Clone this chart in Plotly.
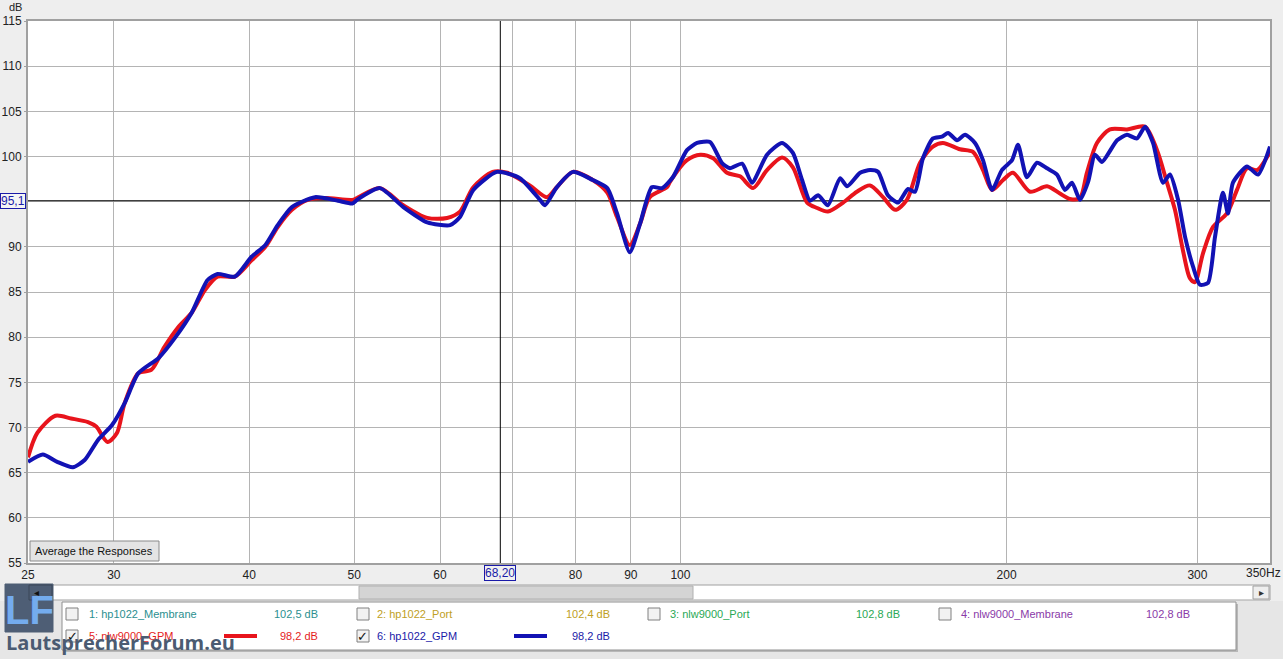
import numpy as np
from plotly import graph_objects as go

# REW-style frequency response: two GPM measurements
red_freq = [25.0, 25.5, 26.5, 27.4, 28.4, 28.9, 29.6, 30.2, 30.7, 31.6, 32.5, 33.4, 34.4, 35.4,
            36.4, 37.4, 38.8, 40.2, 41.4, 42.5, 43.8, 45.3, 47.0, 49.8, 50.3, 52.8, 55.5, 58.4,
            60.9, 62.6, 64.4, 67.1, 69.2, 72.6, 75.3, 76.9, 79.6, 83.0, 85.6, 87.4, 89.8, 91.8,
            93.7, 97.2, 97.8, 101.4, 104.3, 107.2, 110.4, 113.5, 116.7, 120.2, 124.1, 127.0,
            130.9, 133.7, 136.8, 141.3, 145.5, 149.6, 153.8, 157.8, 161.8, 166.4, 171.0, 174.7,
            181.1, 186.2, 190.2, 193.9, 198.5, 202.7, 210.2, 217.9, 224.0, 228.8, 233.7, 237.2,
            242.3, 249.1, 258.3, 268.4, 275.3, 281.2, 286.0, 290.9, 295.3, 298.4, 303.6, 310.1,
            319.4, 326.3, 333.3, 340.5, 350.0]
red_db = [66.7, 69.4, 71.3, 71.0, 70.6, 70.1, 68.4, 69.4, 72.7, 76.0, 76.4, 78.9, 81.1, 82.7,
          85.2, 86.7, 86.7, 88.5, 90.0, 92.2, 94.1, 95.2, 95.4, 95.2, 95.4, 96.5, 94.6, 93.2,
          93.2, 93.9, 96.6, 98.3, 98.2, 96.8, 95.5, 96.6, 98.3, 97.4, 96.0, 93.3, 90.2, 92.6,
          95.5, 96.6, 97.2, 99.6, 100.2, 99.8, 98.2, 97.8, 96.5, 98.5, 99.9, 98.8,
          94.9, 94.3, 93.9, 94.9, 96.1, 96.8, 95.5, 94.1, 95.2, 99.3, 101.1, 101.5,
          100.8, 100.5, 98.5, 96.3, 97.4, 98.2, 96.1, 96.7, 95.9, 95.3, 95.4, 98.2,
          101.5, 103.0, 103.0, 103.3, 100.7, 97.1, 94.1, 89.6, 86.5, 86.1, 89.3, 92.2,
          93.7, 96.3, 98.7, 98.5, 100.5]

blue_freq = [25.0, 25.8, 26.6, 27.5, 28.2, 29.0, 29.9, 30.7, 31.6, 33.0, 34.2, 35.4, 36.6, 37.4,
             38.8, 40.2, 41.4, 42.5, 43.8, 46.0, 48.3, 49.8, 50.3, 52.8, 55.5, 58.4, 61.3, 62.6,
             64.4, 67.7, 71.1, 74.2, 75.0, 76.9, 79.6, 83.0, 85.6, 87.4, 89.8, 91.8, 94.1, 96.2,
             98.4, 101.4, 103.6, 106.5, 109.2, 111.1, 114.0, 116.4, 120.2, 124.1, 127.0, 129.5,
             131.7, 134.0, 136.8, 140.4, 142.5, 146.5, 149.6, 152.2, 155.4, 158.8, 162.2, 164.6,
             167.4, 171.0, 174.3, 176.6, 180.0, 183.1, 187.0, 190.2, 193.9, 198.0, 202.3, 204.9,
             208.8, 213.3, 217.9, 222.6, 226.4, 229.8, 233.7, 237.8, 241.3, 244.9, 252.9, 258.3,
             263.8, 268.4, 273.0, 278.8, 283.0, 287.9, 292.2, 297.2, 301.6, 306.8, 311.4, 316.7,
             320.1, 323.5, 333.3, 341.2, 350.0]
blue_db = [66.2, 67.0, 66.2, 65.6, 66.4, 68.6, 70.3, 72.7, 76.0, 77.7, 80.0, 82.7, 86.3, 87.0,
           86.7, 88.9, 90.2, 92.4, 94.4, 95.5, 95.1, 94.8, 95.2, 96.5, 94.4, 92.7, 92.4, 93.3,
           96.3, 98.3, 97.6, 95.2, 94.6, 96.6, 98.3, 97.4, 96.5, 93.7, 89.4, 92.6, 96.6, 96.5,
           97.7, 100.7, 101.5, 101.6, 99.3, 98.7, 99.2, 97.1, 100.2, 101.5, 100.4, 97.4,
           95.1, 95.7, 94.6, 97.6, 96.7, 98.2, 98.5, 98.3, 95.7, 94.9, 96.4, 96.1,
           99.8, 102.0, 102.2, 102.6, 101.8, 102.4, 101.5, 99.6, 96.3, 98.5, 99.6, 101.3,
           97.7, 99.3, 98.7, 98.0, 96.3, 97.1, 95.2, 97.2, 100.2, 99.4, 101.8, 102.4,
           102.0, 103.3, 101.5, 97.1, 98.0, 95.2, 91.1, 87.8, 85.8, 86.0, 91.1, 96.0,
           93.7, 97.1, 98.9, 98.0, 101.1]

cursor_freq = 68.2
cursor_db = 95.1

x_ticks = [25, 30, 40, 50, 60, 70, 80, 90, 100, 200, 300, 350]
x_tick_labels = ["25", "30", "40", "50", "60", "", "80", "90", "100", "200", "300", ""]
y_ticks = [55, 60, 65, 70, 75, 80, 85, 90, 95, 100, 105, 110, 115]
# the 95 label sits under the cursor readout box
y_tick_labels = ["55", "60", "65", "70", "75", "80", "85", "90", "", "100", "105", "110", "115"]

legend_names = ["1: hp1022_Membrane", "2: hp1022_Port", "3: nlw9000_Port", "4: nlw9000_Membrane",
                "5: nlw9000_GPM", "6: hp1022_GPM"]
legend_levels = ["102,5 dB", "102,4 dB", "102,8 dB", "102,8 dB", "98,2 dB", "98,2 dB"]
legend_colors = ["#2b8f8f", "#c0a024", "#2aa855", "#8a3aa8", "#e41c1c", "#1a1aa8"]
legend_checked = [False, False, False, False, True, True]

RED = "#e8141c"
BLUE = "#1212b4"

W, H = 1283, 659
L, R, T, B = 28, 13, 21, 96


def px(x):
    return (x - L) / (W - L - R)


def py(y):
    return (H - B - y) / (H - T - B)


def label(x, y, text, size=11, color="#222", xanchor="center", **kw):
    # pixel-positioned text, anchors given explicitly
    return dict(xref="paper", yref="paper", x=px(x), y=py(y), text=text, showarrow=False,
                xanchor=xanchor, yanchor="middle", font={"size": size, "color": color, **kw})


def box(x0, y0, x1, y1, fill, line="#808080", width=1):
    return dict(type="rect", xref="paper", yref="paper", x0=px(x0), x1=px(x1), y0=py(y1), y1=py(y0),
                fillcolor=fill, line={"color": line, "width": width}, layer="above")


fig = go.Figure()

# cursor lines
fig.add_trace(go.Scatter(x=[cursor_freq, cursor_freq], y=[55, 115], mode="lines",
                         line={"color": "black", "width": 1}, hoverinfo="skip"))
fig.add_trace(go.Scatter(x=[25, 350], y=[cursor_db, cursor_db], mode="lines",
                         line={"color": "black", "width": 1}, hoverinfo="skip"))

fig.add_trace(go.Scatter(x=red_freq, y=red_db, mode="lines", name="5: nlw9000_GPM",
                         line={"color": RED, "width": 4, "shape": "spline", "smoothing": 0.8}))
fig.add_trace(go.Scatter(x=blue_freq, y=blue_db, mode="lines", name="6: hp1022_GPM",
                         line={"color": BLUE, "width": 4, "shape": "spline", "smoothing": 0.6}))

shapes = []
annotations = []

# Average button
shapes.append(box(30, 541, 159, 561, "#e4e4e4", "#8a8a8a"))
annotations.append(label(94, 551, "Average the Responses", 11, "#111"))

# bottom panel background
shapes.append(dict(type="rect", xref="paper", yref="paper", x0=px(0), x1=px(W), y0=py(H), y1=py(601),
                   fillcolor="#e6e6e6", line={"width": 0}, layer="below"))

# scrollbar
shapes.append(box(27, 585, 1270, 600, "white", "#a0a0a0"))
shapes.append(box(359, 586, 693, 599, "#d4d4d4", "#b0b0b0"))
shapes.append(box(1253, 586, 1269, 599, "#eeeeee", "#a0a0a0"))
annotations.append(label(1261, 592, "▸", 10, "#333"))

# legend panel
shapes.append(dict(type="rect", xref="paper", yref="paper", x0=px(64), x1=px(1238), y0=py(652), y1=py(604),
                   fillcolor="#b8b8b8", line={"width": 0}))
shapes.append(box(62, 602, 1236, 650, "white", "#909090"))

col_box = [66, 357, 648, 939]
col_text = [87, 375, 668, 959]
col_level = [320, 612, 902, 1192]
row_y = [614, 636]
for i, name in enumerate(legend_names):
    if i < 4:
        c, r = i, 0
    else:
        c, r = i - 4, 1
    y = row_y[r]
    shapes.append(box(col_box[c], y - 6, col_box[c] + 12, y + 6, "#f2f2f2", "#808080"))
    if legend_checked[i]:
        annotations.append(label(col_box[c] + 6, y, "✓", 13, "#111", family="DejaVu Sans"))
    annotations.append(label(col_text[c], y, name, 11, legend_colors[i], xanchor="left"))
    annotations.append(label(col_level[c], y, legend_levels[i], 11, legend_colors[i], xanchor="right"))

# line swatches
shapes.append(dict(type="line", xref="paper", yref="paper", x0=px(224), x1=px(257), y0=py(636), y1=py(636),
                   line={"color": RED, "width": 4}))
shapes.append(dict(type="line", xref="paper", yref="paper", x0=px(514), x1=px(547), y0=py(636), y1=py(636),
                   line={"color": BLUE, "width": 4}))

# logo
shapes.append(box(5, 584, 53, 632, "#4e5e75", "#4e5e75"))
shapes.append(box(29, 585, 52, 600, "rgba(0,0,0,0)", "#3a4658"))
annotations.append(label(29, 610, "<b>LF</b>", 40, "#74acee", family="Liberation Sans"))
annotations.append(label(36, 592, "◂", 10, "#111"))
annotations.append(label(4, 642, "LautsprecherForum.eu", 20, "#4b5b72", xanchor="left",
                         family="Open Sans", weight=700))

# axis extras
annotations.append(label(15, 7, "dB", 11, "#222"))
annotations.append(label(1283, 573, "350Hz", 12, "#222", xanchor="right"))

# cursor readouts
annotations.append(dict(xref="paper", yref="y", x=px(26), y=cursor_db, text="95,1", showarrow=False,
                        xanchor="right", yanchor="middle",
                        font={"size": 12, "color": "#1a1aa8"}, bgcolor="#f4f4f4",
                        bordercolor="#1a1aa8", borderwidth=1, borderpad=0))
annotations.append(dict(xref="x", yref="paper", x=np.log10(cursor_freq), y=py(573), text="68,20",
                        showarrow=False, xanchor="center", yanchor="middle",
                        font={"size": 12, "color": "#1a1aa8"}, bgcolor="#f0f0f0",
                        bordercolor="#1a1aa8", borderwidth=1, borderpad=0))

fig.update_layout(
    width=W, height=H,
    showlegend=False,
    paper_bgcolor="#eeeeee",
    plot_bgcolor="white",
    margin={"l": L, "r": R, "t": T, "b": B, "pad": 0, "autoexpand": False},
    font={"family": "Liberation Sans", "size": 12, "color": "#222"},
    xaxis={
        "type": "log",
        "range": [np.log10(25), np.log10(350)],
        "tickvals": x_ticks,
        "ticktext": x_tick_labels,
        "showgrid": True,
        "gridcolor": "#b4b4b4",
        "gridwidth": 1,
        "showline": True,
        "mirror": True,
        "linecolor": "#a0a0a0",
        "linewidth": 2,
        "ticks": "",
        "zeroline": False,
        "automargin": False,
    },
    yaxis={
        "range": [55, 115],
        "tickvals": y_ticks,
        "ticktext": y_tick_labels,
        "showgrid": True,
        "gridcolor": "#b4b4b4",
        "gridwidth": 1,
        "showline": True,
        "mirror": True,
        "linecolor": "#a0a0a0",
        "linewidth": 2,
        "ticks": "outside",
        "ticklen": 2,
        "tickcolor": "#a0a0a0",
        "zeroline": False,
        "automargin": False,
    },
    shapes=shapes,
    annotations=annotations,
    hovermode=False,
)

fig.write_html("out.html", config={"displayModeBar": False},
               post_script="document.body.style.margin='0';")
